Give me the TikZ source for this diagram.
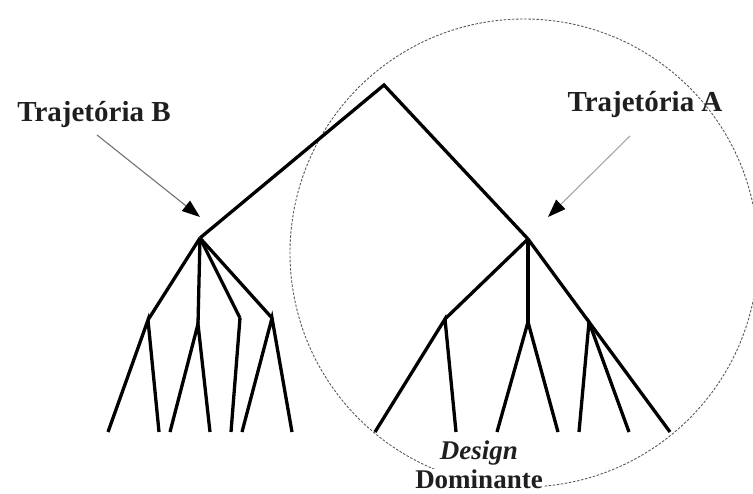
\documentclass[tikz,border=0pt]{standalone}
\usepackage{fontspec}
\setmainfont{Liberation Serif}
\usetikzlibrary{arrows.meta}

\begin{document}
\begin{tikzpicture}[x=1pt, y=-1pt, line join=miter,
    >={Triangle[length=18pt, width=13pt, color=black]},
    font=\bfseries\fontsize{27}{30}\selectfont,
    branch/.style={line width=3.3pt, black},
    pointer/.style={->, line width=1.1pt},
    caption/.style={anchor=base, inner sep=1pt, text=black!88},
    bigcaption/.style={caption, font=\bfseries\fontsize{29}{32}\selectfont}]

  % page frame
  \useasboundingbox (0,0) rectangle (753,494);

  % region of the dominant design (dashed circle)
  \draw[black!65, line width=0.9pt, dash pattern=on 2.5pt off 1.6pt]
    (524,253) circle[radius=234pt];

  % branch points
  \coordinate (root) at (384,85);
  \coordinate (B) at (200,238);
  \coordinate (A) at (528,239);

  \coordinate (b1) at (148,320);
  \coordinate (b2) at (198,324);
  \coordinate (b3) at (240,318);
  \coordinate (b4) at (272,318);

  \coordinate (a1) at (445,319);
  \coordinate (a2) at (528,322);
  \coordinate (a3) at (589,322);

  % leaves, all on one line
  \def\leafY{432}
  \foreach \name/\x in {b11/108, b12/159, b21/170, b22/210, b31/231, b41/242, b42/292,
                        a11/375, a12/456, a21/497, a22/558, a31/579, a32/629, a33/670}
    \coordinate (\name) at (\x,\leafY);

  % first split
  \draw[branch] (B) -- (root) -- (A);

  % trajectory B
  \foreach \c in {b1,b2,b3,b4} \draw[branch] (B) -- (\c);
  \draw[branch] (b11) -- (b1) -- (b12);
  \draw[branch] (b21) -- (b2) -- (b22);
  \draw[branch] (b3) -- (b31);
  \draw[branch] (b41) -- (b4) -- (b42);

  % trajectory A
  \foreach \c in {a1,a2,a3} \draw[branch] (A) -- (\c);
  \draw[branch] (a11) -- (a1) -- (a12);
  \draw[branch] (a21) -- (a2) -- (a22);
  \draw[branch] (a31) -- (a3) -- (a33);
  \draw[branch] (a3) -- (a32);

  % labels
  \node[bigcaption] (labelB) at (94,122) {Trajetória B};
  \node[bigcaption] (labelA) at (645,112) {Trajetória A};
  \node[caption] (design) at (479,460) {\textit{Design}};
  \node[caption, fill=white] (dominante) at (479,489) {Dominante};

  % pointers to the two branch points
  \coordinate (tailB) at (97,135);
  \coordinate (tipB) at (200,217);
  \coordinate (tailA) at (630,136);
  \coordinate (tipA) at (548,217);
  \draw[pointer, black!55] (tailB) -- (tipB);
  \draw[pointer, black!35] (tailA) -- (tipA);

\end{tikzpicture}
\end{document}
